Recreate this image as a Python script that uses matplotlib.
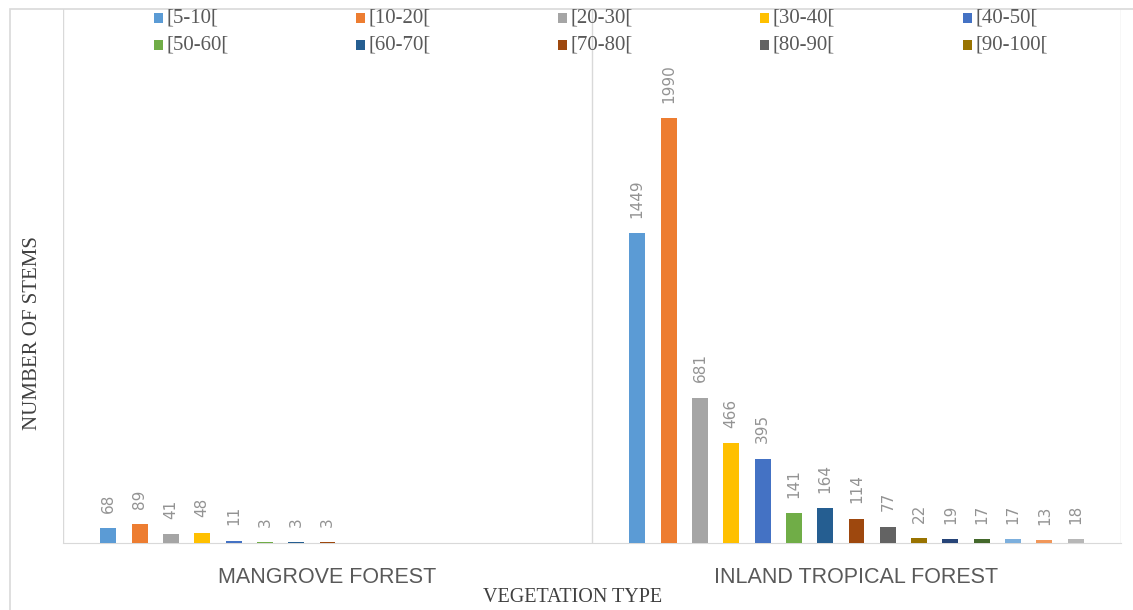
import numpy as np
import matplotlib.pyplot as plt
from matplotlib.patches import Rectangle

# diameter classes (cm) and stem counts per vegetation type
bins = ['[5-10[', '[10-20[', '[20-30[', '[30-40[', '[40-50[',
        '[50-60[', '[60-70[', '[70-80[', '[80-90[', '[90-100[',
        '[100-110[', '[110-120[', '[120-130[', '[130-140[', '[140-150[']
vegetation = ['MANGROVE FOREST', 'INLAND TROPICAL FOREST']
mangrove = [68, 89, 41, 48, 11, 3, 3, 3]
inland = [1449, 1990, 681, 466, 395, 141, 164, 114, 77, 22, 19, 17, 17, 13, 18]

colors = ['#5B9BD5', '#ED7D31', '#A5A5A5', '#FFC000', '#4472C4',
          '#70AD47', '#255E91', '#9E480E', '#636363', '#997300',
          '#264478', '#43682B', '#7CAFDD', '#F1975A', '#B7B7B7']

W, H = 1133, 610
fig = plt.figure(figsize=(W / 100, H / 100), dpi=100)
fig.patch.set_facecolor('white')

# chart border (left and top edges visible)
fig.patches.append(Rectangle((10 / W, -0.1), 1.2, 1 - 9 / H + 0.1,
                             transform=fig.transFigure, fill=False,
                             edgecolor='#d9d9d9', linewidth=1.2))

ax = fig.add_axes([63 / W, 1 - 543 / H, (1121 - 63) / W, (543 - 9) / H])
ax.set_xlim(0, 2)
ax.set_ylim(0, 2500)

slot = 0.0592
bw = 0.0302
groups = [mangrove, inland]
nser = len(bins)

for i in range(nser):
    xs, vals = [], []
    for g, counts in enumerate(groups):
        if i < len(counts):
            xs.append(g + 0.5 + (i - (nser - 1) / 2) * slot)
            vals.append(counts[i])
    if not xs:
        continue
    bars = ax.bar(xs, vals, width=bw, color=colors[i], zorder=3)
    ax.bar_label(bars, labels=[str(v) for v in vals], padding=11,
                 rotation=90, fontsize=11, color='#939393',
                 family='DejaVu Sans')

# category separators
for xv in [0, 1, 2]:
    ax.axvline(xv, color='#d9d9d9', linewidth=1.0, zorder=1)

for s in ['top', 'left', 'right']:
    ax.spines[s].set_visible(False)
ax.spines['bottom'].set_color('#d9d9d9')
ax.set_yticks([])
ax.set_xticks([0.5, 1.5])
ax.set_xticklabels(vegetation, family='Liberation Sans', fontsize=15.5,
                   color='#595959')
ax.tick_params(axis='x', length=0, pad=17)

serif = ['Liberation Serif', 'DejaVu Serif']
fig.text(573 / W, 1 - 598 / H, 'VEGETATION TYPE', ha='center', va='center',
         family=serif, fontsize=14.5, color='#404040')
fig.text(33 / W, 1 - 333 / H, 'NUMBER OF STEMS', ha='center', va='center',
         rotation=90, family=serif, fontsize=15, color='#404040')

# legend: first ten diameter classes in two rows
x0, pitch = 158, 202.3
rows_y = [18, 45]
for k in range(10):
    r, c = divmod(k, 5)
    cx = x0 + c * pitch
    cy = rows_y[r]
    fig.patches.append(Rectangle(((cx - 4.5) / W, 1 - (cy + 5) / H), 9 / W, 10 / H,
                                 transform=fig.transFigure,
                                 facecolor=colors[k], edgecolor='none'))
    fig.text((cx + 8) / W, 1 - cy / H, bins[k], ha='left', va='center',
             family=serif, fontsize=15, color='#595959')

fig.savefig('out.png', dpi=100)
